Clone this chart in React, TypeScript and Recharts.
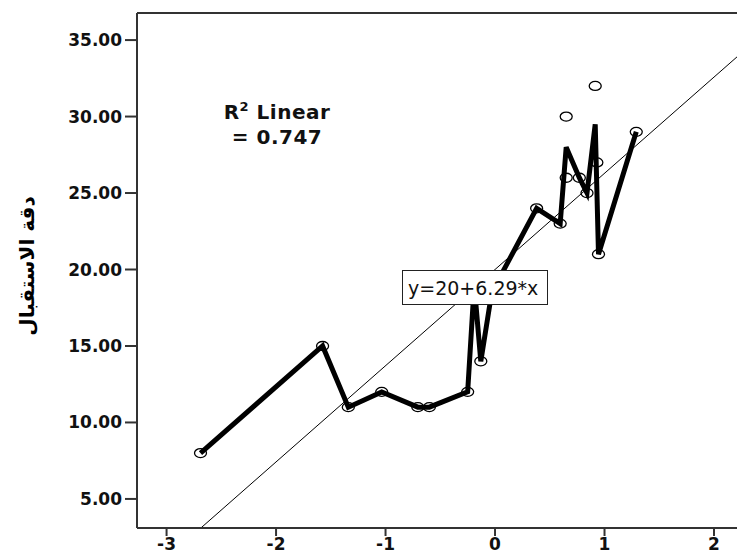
import React from 'react';
import { ComposedChart, Line, ReferenceLine, Scatter, XAxis, YAxis } from 'recharts';

// observed cases (standardised predictor vs. score)
const OBS_X = [-2.69, -1.575, -1.34, -1.035, -0.705, -0.6, -0.25, -0.19, -0.13, -0.03, 0.38, 0.595, 0.65, 0.65, 0.77, 0.84, 0.915, 0.93, 0.945, 1.29];
const OBS_Y = [8, 15, 11, 12, 11, 11, 12, 19, 14, 18.5, 24, 23, 30, 26, 26, 25, 32, 27, 21, 29];

// interpolation line through the mean score at each x
const MEAN_X = [-2.69, -1.575, -1.34, -1.035, -0.705, -0.6, -0.25, -0.19, -0.13, -0.03, 0.38, 0.595, 0.65, 0.77, 0.84, 0.915, 0.945, 1.29];
const MEAN_Y = [8, 15, 11, 12, 11, 11, 12, 19, 14, 18.5, 24, 23, 28, 26, 25, 29.5, 21, 29];

const X_TICKS = [-3, -2, -1, 0, 1, 2];
const Y_TICKS = [5, 10, 15, 20, 25, 30, 35];

const FIT_INTERCEPT = 20;
const FIT_SLOPE = 6.29;
const R2 = 0.747;

const X_MIN = -3.27;
const X_MAX = 2.21;
const Y_MIN = 3.1;
const Y_MAX = 36.77;

const points = OBS_X.map((x, i) => ({ x, y: OBS_Y[i] }));
const means = MEAN_X.map((x, i) => ({ x, y: MEAN_Y[i] }));
const fitStart = (Y_MIN - FIT_INTERCEPT) / FIT_SLOPE;
const fit = [fitStart, X_MAX].map((x) => ({ x, y: FIT_INTERCEPT + FIT_SLOPE * x }));

const FONT = '"DejaVu Sans", sans-serif';
const tickStyle = { fontSize: 17, fontWeight: 700, fill: '#111', fontFamily: FONT };
const axisStroke = { stroke: '#333', strokeWidth: 2 };

const OpenCircle = (props: any) => {
  const { cx, cy } = props;
  if (cx == null || cy == null) return null;
  return <ellipse cx={cx} cy={cy} rx={6} ry={4.5} fill="none" stroke="#000" strokeWidth={1.3} />;
};

export default function App() {
  return (
    <div style={{ position: 'absolute', left: 0, top: 0, width: 737, height: 554, background: '#fff', overflow: 'hidden' }}>
      <ComposedChart width={737} height={554} margin={{ top: 13, right: 0, bottom: 0, left: 0 }}>
        <XAxis
          type="number"
          dataKey="x"
          domain={[X_MIN, X_MAX]}
          allowDataOverflow
          ticks={X_TICKS}
          tick={tickStyle}
          tickSize={8}
          tickMargin={2}
          tickLine={axisStroke}
          axisLine={axisStroke}
          height={26}
        />
        <YAxis
          type="number"
          dataKey="y"
          domain={[Y_MIN, Y_MAX]}
          allowDataOverflow
          ticks={Y_TICKS}
          tickFormatter={(v: number) => v.toFixed(2)}
          tick={tickStyle}
          tickSize={12}
          tickMargin={3}
          tickLine={axisStroke}
          axisLine={axisStroke}
          width={137}
        />
        <ReferenceLine y={Y_MAX} stroke="#333" strokeWidth={2} ifOverflow="visible" />
        <Line data={fit} dataKey="y" stroke="#000" strokeWidth={1} dot={false} isAnimationActive={false} />
        <Line data={means} dataKey="y" stroke="#000" strokeWidth={5} dot={false} isAnimationActive={false} />
        <Scatter data={points} dataKey="y" shape={OpenCircle} isAnimationActive={false} />
      </ComposedChart>

      <div
        style={{
          position: 'absolute',
          left: 27,
          top: 266,
          transform: 'translate(-50%, -50%) rotate(-90deg)',
          fontFamily: FONT,
          fontWeight: 700,
          fontSize: 20,
          whiteSpace: 'nowrap',
          direction: 'rtl',
        }}
      >
        دقة الاستقبال
      </div>

      <div
        style={{
          position: 'absolute',
          left: 277,
          top: 100,
          transform: 'translateX(-50%)',
          fontFamily: FONT,
          fontWeight: 700,
          fontSize: 20,
          lineHeight: '25px',
          letterSpacing: 0.5,
          textAlign: 'center',
          whiteSpace: 'nowrap',
          color: '#111',
        }}
      >
        <div>
          R<sup style={{ fontSize: 13, verticalAlign: 'top', lineHeight: '14px' }}>2</sup> Linear
        </div>
        <div>= {R2.toFixed(3)}</div>
      </div>

      <div
        style={{
          position: 'absolute',
          left: 402,
          top: 270,
          width: 146,
          height: 35,
          boxSizing: 'border-box',
          border: '1.5px solid #222',
          background: '#fff',
          display: 'flex',
          alignItems: 'center',
          paddingLeft: 5,
          fontFamily: FONT,
          fontSize: 19,
          color: '#111',
          whiteSpace: 'nowrap',
        }}
      >
        y={FIT_INTERCEPT}+{FIT_SLOPE}*x
      </div>
    </div>
  );
}
